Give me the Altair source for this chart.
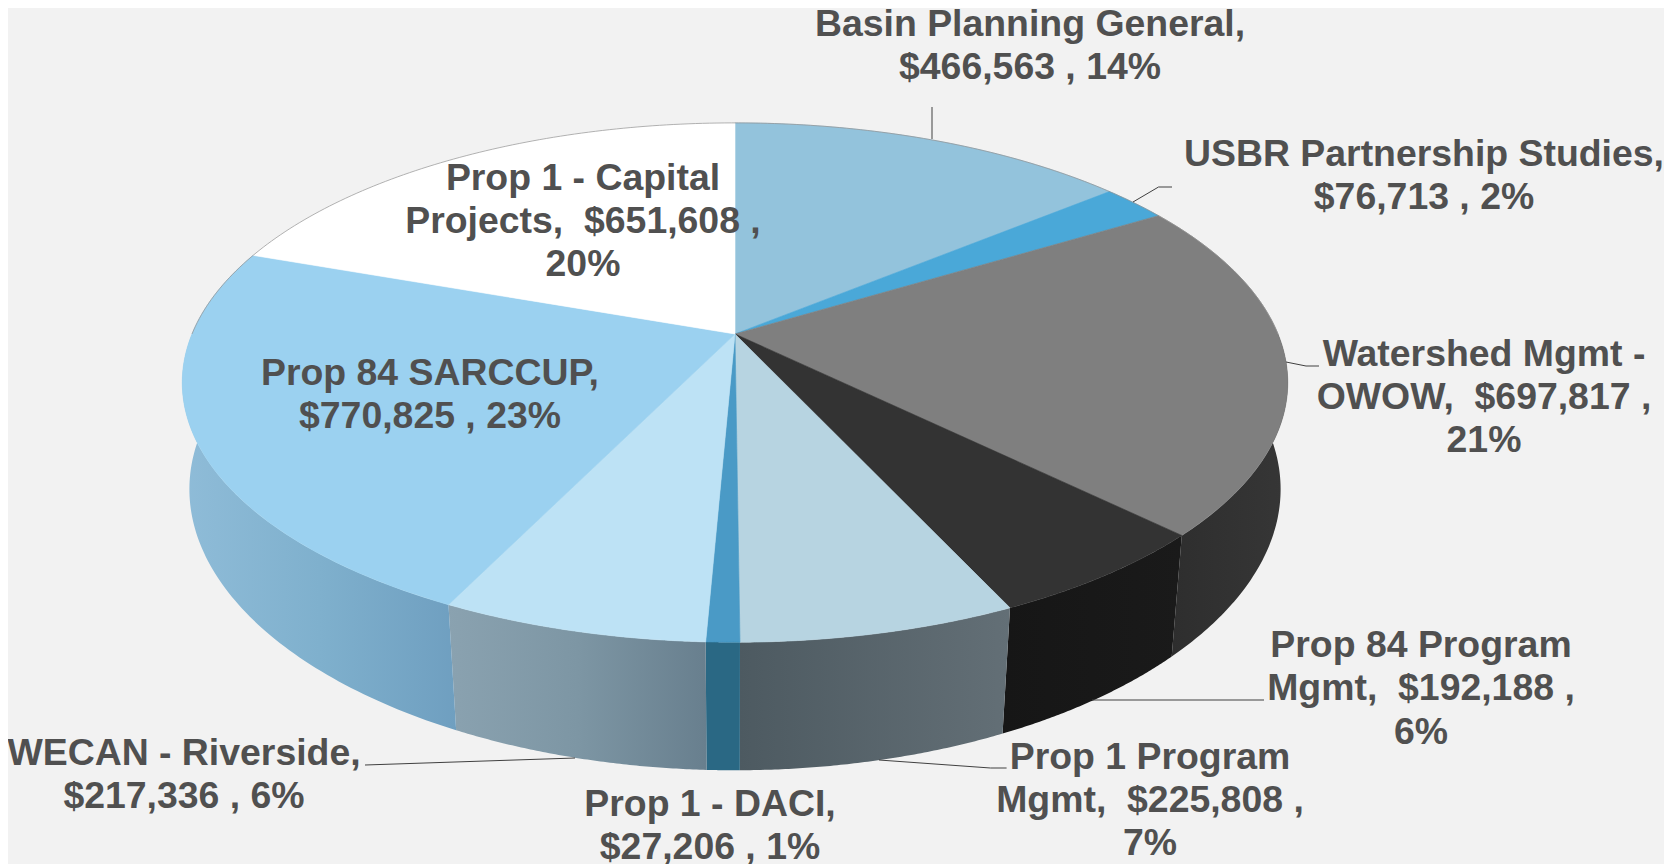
import numpy as np
import pandas as pd
import altair as alt

names = ["Basin Planning General", "USBR Partnership Studies", "Watershed Mgmt - OWOW",
         "Prop 84 Program Mgmt", "Prop 1 Program Mgmt", "Prop 1 - DACI",
         "WECAN - Riverside", "Prop 84 SARCCUP", "Prop 1 - Capital Projects"]
amounts = [466563, 76713, 697817, 192188, 225808, 27206, 217336, 770825, 651608]
percents = [14, 2, 21, 6, 7, 1, 6, 23, 20]

label_lines = [
    ["Basin Planning General,", "$466,563 , 14%"],
    ["USBR Partnership Studies,", "$76,713 , 2%"],
    ["Watershed Mgmt -", "OWOW,\u00a0 $697,817 ,", "21%"],
    ["Prop 84 Program", "Mgmt,\u00a0 $192,188 ,", "6%"],
    ["Prop 1 Program", "Mgmt,\u00a0 $225,808 ,", "7%"],
    ["Prop 1 - DACI,", "$27,206 , 1%"],
    ["WECAN - Riverside,", "$217,336 , 6%"],
    ["Prop 84 SARCCUP,", "$770,825 , 23%"],
    ["Prop 1 - Capital", "Projects,\u00a0 $651,608 ,", "20%"],
]

# styles
top_colors = ["#93c3dc", "#4aa8d8", "#7f7f7f", "#333333", "#b7d4e1", "#4a9ac6", "#bde2f5", "#9bd1f0", "#ffffff"]
wall_stops = {
    2: ["#2e2e2e", "#363636"],
    3: ["#161616", "#1a1a1a"],
    4: ["#4d5a61", "#636f76"],
    5: ["#2a6884", "#2a6884"],
    6: ["#8aa2b0", "#7d96a4", "#687f8e"],
    7: ["#8fbcd8", "#7fb0cd", "#6f9fc0"],
}

# layout
CX, CY = 735, 334
A, B, K = 250.6, 543.0, 0.187
WALL_Y, WALL_M, WALL_X, WALL_K = 108.0, 1.065, 0.99, 0.171
label_pos = [(1030, 24.5), (1424, 155), (1484, 354.5), (1421, 646), (1150, 757.5),
             (710, 804.5), (184, 753.5), (430, 373.5), (583, 178.5)]
LINE_H = 43.4
leaders = {
    0: [(932, 107), (932, 139)],
    1: [(1133, 202), (1158.5, 187), (1172, 187)],
    2: [(1286, 362), (1306, 366), (1319, 366)],
    3: [(1092, 700), (1264, 700)],
    4: [(879, 760), (990.6, 768), (1006.6, 768)],
    6: [(575, 758), (365, 765)],
}

X = alt.X("x:Q", scale=alt.Scale(domain=[8, 1664]), axis=None)
Y = alt.Y("y:Q", scale=alt.Scale(domain=[864, 8]), axis=None)


def rim(t, wall=False):
    c, s = np.sin(t), -np.cos(t)
    d = 1 - K * s
    if wall:
        return CX + WALL_X * B * c / (1 - WALL_K * s), CY + WALL_Y + WALL_M * A * s / d
    return CX + B * c / d, CY + A * s / d


def poly(xs, ys):
    return pd.DataFrame({"x": xs, "y": ys, "o": np.arange(len(xs))})


total = sum(amounts)
edges = 2 * np.pi * np.concatenate([[0], np.cumsum(amounts)]) / total

wall_layers, top_layers = [], []
for i in range(len(names)):
    t0, t1 = edges[i], edges[i + 1]
    if i in wall_stops:
        a0, a1 = max(t0, np.pi / 2), min(t1, 3 * np.pi / 2)
        t = np.linspace(a0, a1, 80)
        x1, y1 = rim(t)
        x2, y2 = rim(t[::-1], wall=True)
        stops = wall_stops[i]
        grad = alt.Gradient(
            gradient="linear", x1=0, x2=1, y1=0, y2=0,
            stops=[alt.GradientStop(color=c, offset=j / (len(stops) - 1)) for j, c in enumerate(stops)],
        )
        wall_layers.append(
            alt.Chart(poly(np.r_[x1, x2, x1[0]], np.r_[y1, y2, y1[0]]))
            .mark_line(fill=grad, strokeWidth=0, clip=False, interpolate="linear")
            .encode(x=X, y=Y, order="o:Q")
        )
    t = np.linspace(t0, t1, 120)
    x1, y1 = rim(t)
    top_layers.append(
        alt.Chart(poly(np.r_[CX, x1, CX], np.r_[CY, y1, CY]))
        .mark_line(fill=top_colors[i], stroke=top_colors[i], strokeWidth=0.6)
        .encode(x=X, y=Y, order="o:Q")
    )

# hairline round the back of the disc
t = np.linspace(-np.pi / 2, np.pi / 2, 200)
hx, hy = rim(t)
hair = alt.Chart(poly(hx, hy)).mark_line(stroke="#8f8f8f", strokeWidth=0.7).encode(x=X, y=Y, order="o:Q")

rows = []
for i, pts in leaders.items():
    for j, (x, y) in enumerate(pts):
        rows.append({"x": x, "y": y, "o": j, "g": names[i]})
lead = alt.Chart(pd.DataFrame(rows)).mark_line(stroke="#404040", strokeWidth=1).encode(
    x=X, y=Y, order="o:Q", detail="g:N"
)

rows = []
for i, lines in enumerate(label_lines):
    lx, ly = label_pos[i]
    for j, line in enumerate(lines):
        rows.append({"x": lx, "y": ly + j * LINE_H, "t": line})
text = alt.Chart(pd.DataFrame(rows)).mark_text(
    font="Liberation Sans", fontWeight="bold", fontSize=37.4, color="#505050",
    align="center", baseline="middle",
).encode(x=X, y=Y, text="t:N")

chart = alt.layer(*wall_layers, *top_layers, hair, lead, text).properties(
    width=1656, height=856, background="#f2f2f2",
    padding=0, autosize=alt.AutoSizeParams(type="none"),
).configure_view(stroke=None)

chart.save("out.html", embed_options={"renderer": "svg", "actions": False})
